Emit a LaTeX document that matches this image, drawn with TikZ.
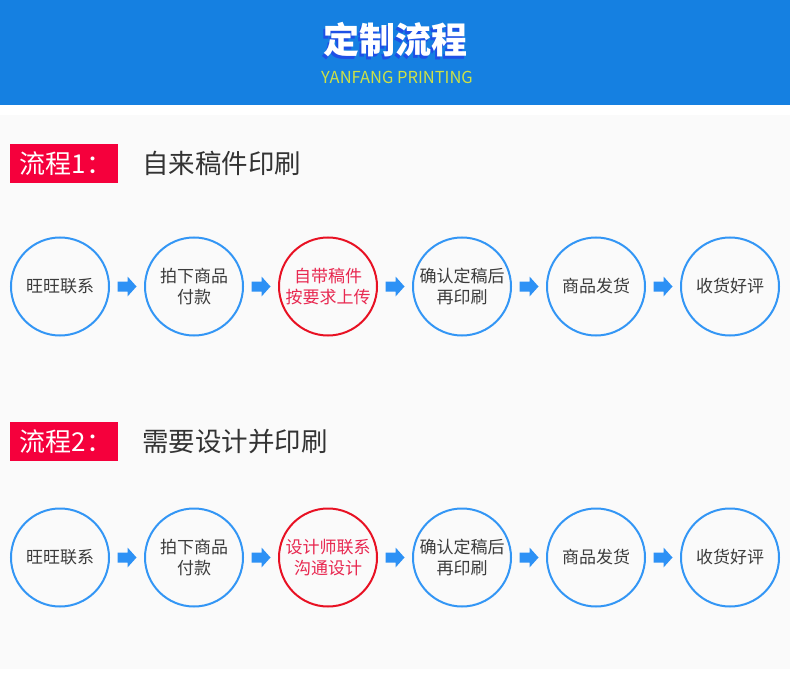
\documentclass[tikz,border=0pt]{standalone}
\usepackage{fontspec}
\setmainfont{Noto Sans CJK SC}
\usetikzlibrary{calc}
\definecolor{headblue}{RGB}{21,128,225}
\definecolor{shadblue}{RGB}{30,80,230}
\definecolor{subyellow}{RGB}{205,225,70}
\definecolor{panelgray}{RGB}{250,250,250}
\definecolor{circblue}{RGB}{51,150,245}
\definecolor{arrblue}{RGB}{45,145,245}
\definecolor{circred}{RGB}{232,17,35}
\definecolor{txtred}{RGB}{232,40,80}
\definecolor{labred}{RGB}{245,0,60}
\definecolor{txtgray}{RGB}{60,60,60}
\definecolor{titlegray}{RGB}{51,51,51}
\tikzset{
  stepcirc/.style={circle, draw=circblue, line width=2pt, minimum size=98pt, inner sep=0pt,
    align=center, text=txtgray, font=\fontsize{17}{21}\selectfont},
  redcirc/.style={stepcirc, draw=circred, text=txtred},
  arr/.style={fill=arrblue, draw=none},
  labbox/.style={fill=labred, text=white, minimum width=108pt, minimum height=39pt, inner sep=0pt,
    font=\fontsize{26}{30}\selectfont},
  sectitle/.style={anchor=west, text=titlegray, inner sep=0pt, font=\fontsize{26.5}{30}\selectfont}
}
\newcommand{\blockarrow}[2]{%
  \draw[arr] ($(#1)!0.5!(#2)$) ++(-9.5,-5) -- ++(10,0) -- ++(0,-5) -- ++(9,10) -- ++(-9,10) -- ++(0,-5) -- ++(-10,0) -- cycle;}
\newcommand{\shadowtext}[1]{\rlap{\hspace{-1.5pt}\raisebox{-3pt}{\color{shadblue}#1}}#1}
\begin{document}
\begin{tikzpicture}[x=1pt,y=-1pt]
\useasboundingbox (0,0) rectangle (790,679);
\fill[white] (0,0) rectangle (790,679);
\fill[headblue] (0,0) rectangle (790,105);
\fill[panelgray] (0,115) rectangle (790,669);
% header
\node[text=white, font=\fontsize{36}{40}\bfseries\selectfont, inner sep=0pt] (head) at (395,41) {\shadowtext{定制流程}};
\node[text=subyellow, font=\fontsize{16.5}{18}\selectfont, inner sep=0pt] (sub) at (397,77) {YANFANG PRINTING};
% section 1
\node[labbox] (lab1) at (64,163.5) {\hspace{4pt}流程1：};
\node[sectitle] (t1) at (142,163.5) {自来稿件印刷};
\node[stepcirc] (a1) at (60,286.5) {旺旺联系};
\node[stepcirc] (a2) at (194,286.5) {拍下商品\\付款};
\node[redcirc] (a3) at (328,286.5) {自带稿件\\按要求上传};
\node[stepcirc] (a4) at (462,286.5) {确认定稿后\\再印刷};
\node[stepcirc] (a5) at (596,286.5) {商品发货};
\node[stepcirc] (a6) at (730,286.5) {收货好评};
\blockarrow{a1}{a2}\blockarrow{a2}{a3}\blockarrow{a3}{a4}\blockarrow{a4}{a5}\blockarrow{a5}{a6}
% section 2
\node[labbox] (lab2) at (64,441.5) {\hspace{4pt}流程2：};
\node[sectitle] (t2) at (142,441.5) {需要设计并印刷};
\node[stepcirc] (b1) at (60,557.5) {旺旺联系};
\node[stepcirc] (b2) at (194,557.5) {拍下商品\\付款};
\node[redcirc] (b3) at (328,557.5) {设计师联系\\沟通设计};
\node[stepcirc] (b4) at (462,557.5) {确认定稿后\\再印刷};
\node[stepcirc] (b5) at (596,557.5) {商品发货};
\node[stepcirc] (b6) at (730,557.5) {收货好评};
\blockarrow{b1}{b2}\blockarrow{b2}{b3}\blockarrow{b3}{b4}\blockarrow{b4}{b5}\blockarrow{b5}{b6}
\end{tikzpicture}
\end{document}
